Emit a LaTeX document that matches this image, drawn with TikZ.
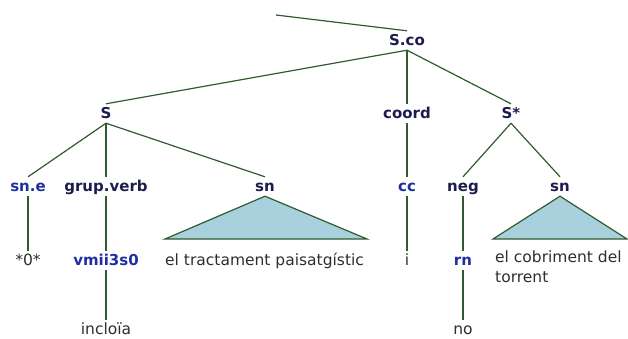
\documentclass[tikz,border=0pt]{standalone}
\usepackage{fontspec}
\setmainfont{DejaVu Sans}
\usepackage{tikz}
\usetikzlibrary{positioning,calc}

\definecolor{catcol}{HTML}{1C1C4E}
\definecolor{tagcol}{HTML}{1F2F9F}
\definecolor{edgecol}{HTML}{2F5B2F}
\definecolor{trifill}{HTML}{A9D1DD}
\definecolor{wordcol}{HTML}{2E2E2E}

\begin{document}
\begin{tikzpicture}[x=1bp,y=-1bp,
        cat/.style={font=\bfseries\fontsize{15bp}{18bp}\selectfont,text=catcol,text height=11bp,text depth=2bp,inner sep=3bp,anchor=base},
        tag/.style={cat,text=tagcol},
        word/.style={font=\fontsize{15.5bp}{20bp}\selectfont,text=wordcol,text height=11bp,text depth=2bp,inner sep=3bp,anchor=base},
        edge/.style={draw=edgecol,line width=1.2bp},
        tri/.style={edge,fill=trifill,line join=miter}]
        \useasboundingbox (0,0) rectangle (628,338);

        \coordinate (top) at (276,15);
        \node[cat] (sco) at (407,45) {S.co};
        \node[cat] (s) at (106,118) {S};
        \node[cat] (coord) at (407,118) {coord};
        \node[cat] (sstar) at (511,118) {S*};
        \node[tag] (sne) at (28,191) {sn.e};
        \node[cat] (gv) at (106,191) {grup.verb};
        \node[cat] (sn1) at (265,191) {sn};
        \node[tag] (cc) at (407,191) {cc};
        \node[cat] (neg) at (463,191) {neg};
        \node[cat] (sn2) at (560,191) {sn};
        \node[word] (zero) at (28,265) {*0*};
        \node[tag] (vm) at (106,265) {vmii3s0};
        \node[word,anchor=base west,inner xsep=0pt] (ph1) at (165,265) {el tractament paisatgístic};
        \node[word] (i) at (407,265) {i};
        \node[tag] (rn) at (463,265) {rn};
        \node[word,align=left,anchor=north west,inner sep=0pt,text height=,text depth=] (ph2) at (495,251) {el cobriment del\\torrent};
        \node[word] (inc) at (106,334) {incloïa};
        \node[word] (no) at (463,334) {no};

        \coordinate (t1l) at (165,239);
        \coordinate (t1r) at (367,239);
        \coordinate (t2l) at (493,239);
        \coordinate (t2r) at (627,239);

        \draw[edge](top) -- (sco.north);
        \draw[edge](sco.south) -- (s.north);
        \draw[edge](sco.south) -- (coord.north);
        \draw[edge](sco.south) -- (sstar.north);
        \draw[edge](s.south) -- (sne.north);
        \draw[edge](s.south) -- (gv.north);
        \draw[edge](s.south) -- (sn1.north);
        \draw[edge](coord.south) -- (cc.north);
        \draw[edge](sstar.south) -- (neg.north);
        \draw[edge](sstar.south) -- (sn2.north);
        \draw[edge](sne.south) -- (zero.north);
        \draw[edge](gv.south) -- (vm.north);
        \draw[edge](vm.south) -- (inc.north);
        \draw[edge](cc.south) -- (i.north);
        \draw[edge](neg.south) -- (rn.north);
        \draw[edge](rn.south) -- (no.north);
        \draw[tri](sn1.south) -- (t1l) -- (t1r) -- cycle;
        \draw[tri](sn2.south) -- (t2l) -- (t2r) -- cycle;
    \end{tikzpicture}
\end{document}
